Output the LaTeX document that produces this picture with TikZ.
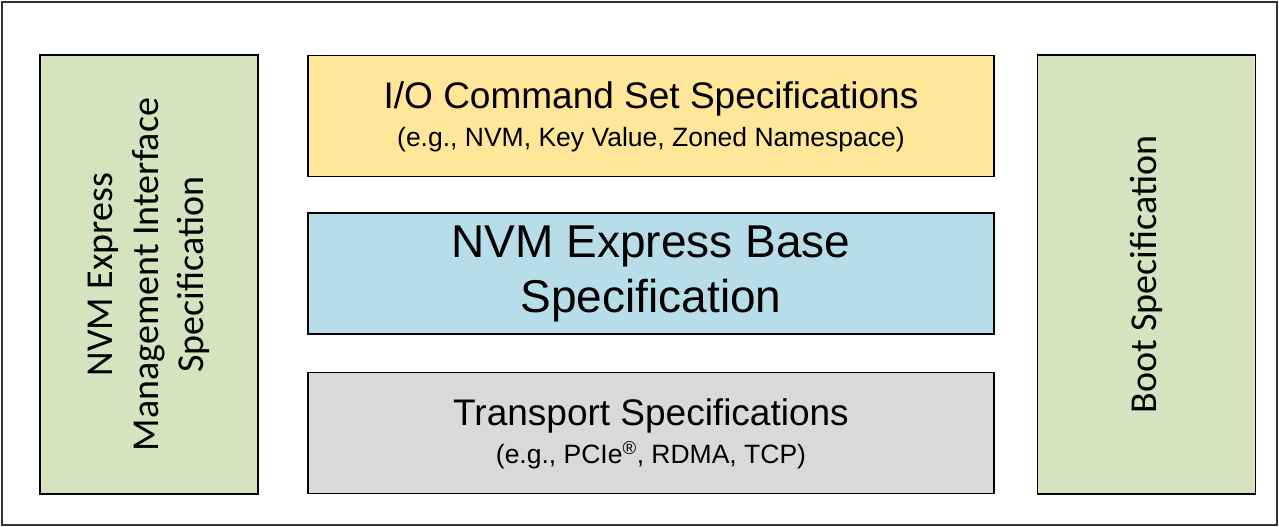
\documentclass[tikz,border=0pt]{standalone}
\usepackage{fontspec}
\setmainfont{Liberation Sans}
\newfontfamily\sidefont{Carlito}
\definecolor{verde}{HTML}{D7E3BF}
\definecolor{amarillo}{HTML}{FFE699}
\definecolor{azul}{HTML}{B7DDE8}
\definecolor{gris}{HTML}{D9D9D9}
\begin{document}
\begin{tikzpicture}[x=1pt, y=-1pt,
    caja/.style={draw=black, line width=1.2pt, inner sep=0pt, align=center},
    centro/.style={caja, minimum width=686pt, minimum height=121pt},
    lado/.style={caja, fill=verde, rotate=90, minimum width=439pt, minimum height=218pt,
      font=\sidefont\fontsize{38}{45.5}\selectfont}]
  \useasboundingbox (0,0) rectangle (1279,527);
  % Marco exterior
  \draw[line width=1.4pt, black!80] (2,2) rectangle (1277,525);

  % Columnas laterales
  \node[lado] (mi) at (149,274.5) {NVM Express\\Management Interface\\Specification};
  \node[lado] (boot) at (1146.5,274.5) {Boot Specification};

  % Capas del centro
  \node[centro, fill=amarillo, font=\fontsize{37}{38}\selectfont, text depth=4pt] (io) at (651,116)
    {I/O Command Set Specifications\\{\fontsize{26.5}{38}\selectfont (e.g., NVM, Key Value, Zoned Namespace)}};
  \node[centro, fill=azul, font=\fontsize{46}{55}\selectfont] (base) at (651,273.5)
    {NVM Express Base\\Specification};
  \node[centro, fill=gris, font=\fontsize{37}{38}\selectfont, text depth=4pt] (transp) at (651,433)
    {Transport Specifications\\{\fontsize{26.5}{38}\selectfont (e.g., PCIe\textsuperscript{\textregistered}, RDMA, TCP)}};
\end{tikzpicture}
\end{document}
